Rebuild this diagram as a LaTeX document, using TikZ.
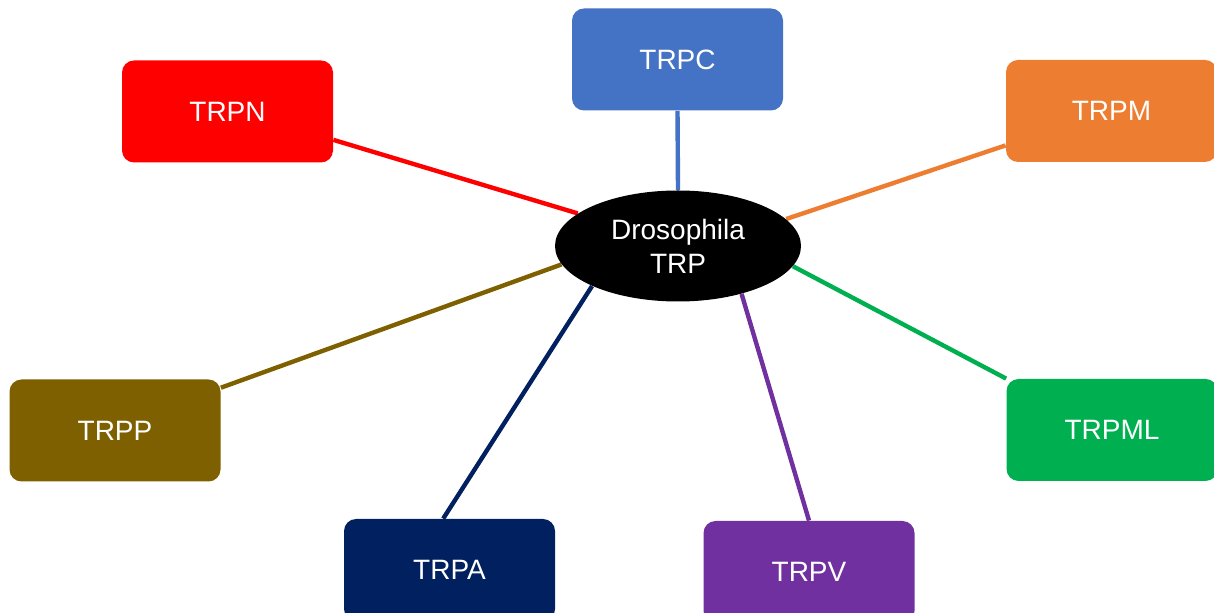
\documentclass[tikz,border=0pt]{standalone}
\usepackage{fontspec}
\setmainfont{Liberation Sans}
\usetikzlibrary{shapes.geometric,backgrounds}
\definecolor{cC}{HTML}{4472C4}
\definecolor{cN}{HTML}{FF0000}
\definecolor{cM}{HTML}{ED7D31}
\definecolor{cP}{HTML}{7F6000}
\definecolor{cML}{HTML}{00B050}
\definecolor{cA}{HTML}{002060}
\definecolor{cV}{HTML}{7030A0}
\tikzset{
  trpbox/.style={rectangle, rounded corners=6pt, minimum width=105.5pt, minimum height=51pt, inner sep=0pt, text=white, font=\fontsize{14}{17}\selectfont, fill=#1},
  link/.style={line width=2.2pt, draw=#1},
  hub/.style={ellipse, fill=black, text=white, minimum width=123pt, minimum height=55.5pt, inner sep=0pt, align=center, font=\fontsize{14}{17}\selectfont}
}
\begin{document}
\begin{tikzpicture}[x=0.5pt,y=-0.5pt]
\useasboundingbox (0,0) rectangle (1214,613);
\node[hub] (e) at (678,246) {Drosophila\\TRP};
\node[trpbox=cC] (trpc) at (677.5,59.5) {TRPC};
\node[trpbox=cN] (trpn) at (227.5,111.5) {TRPN};
\node[trpbox=cM] (trpm) at (1111.5,111) {TRPM};
\node[trpbox=cP] (trpp) at (115,430.5) {TRPP};
\node[trpbox=cML] (trpml) at (1112,430) {TRPML};
\node[trpbox=cA] (trpa) at (449.5,570) {TRPA};
\node[trpbox=cV] (trpv) at (809,572) {TRPV};
\begin{scope}[on background layer]
\draw[link=cC] (trpc.south) -- (e.90);
\draw[link=cN] (trpn.-15) -- (e.162);
\draw[link=cM] (trpm.198) -- (e.14);
\draw[link=cML] (trpml.north west) -- (e.-10.5);
\draw[link=cV] (trpv.north) -- (e.-37);
\draw[link=cA] (trpa.97) -- (e.205.5);
\draw[link=cP] (trpp.22) -- (e.189);
\end{scope}
\end{tikzpicture}
\end{document}
